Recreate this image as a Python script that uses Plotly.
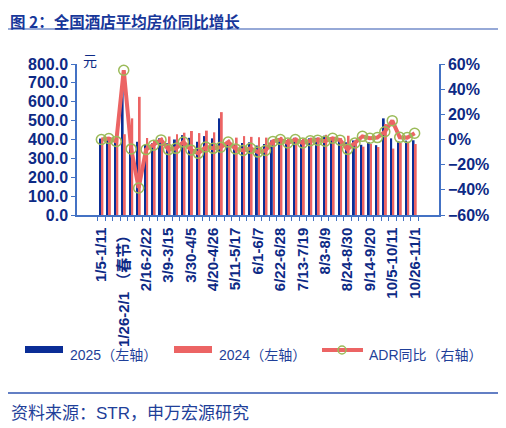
import plotly.graph_objects as go

weeks = ["1/5-1/11", "1/12-1/18", "1/19-1/25", "1/26-2/1（春节）", "2/2-2/8", "2/9-2/15",
         "2/16-2/22", "2/23-3/1", "3/2-3/8", "3/9-3/15", "3/16-3/22", "3/23-3/29",
         "3/30-4/5", "4/6-4/12", "4/13-4/19", "4/20-4/26", "4/27-5/3", "5/4-5/10",
         "5/11-5/17", "5/18-5/24", "5/25-5/31", "6/1-6/7", "6/8-6/14", "6/15-6/21",
         "6/22-6/28", "6/29-7/5", "7/6-7/12", "7/13-7/19", "7/20-7/26", "7/27-8/2",
         "8/3-8/9", "8/10-8/16", "8/17-8/23", "8/24-8/30", "8/31-9/6", "9/7-9/13",
         "9/14-9/20", "9/21-9/27", "9/28-10/4", "10/5-10/11", "10/12-10/18", "10/19-10/25",
         "10/26-11/1"]
shown_labels = ["1/5-1/11", "1/26-2/1（春节）", "2/16-2/22", "3/9-3/15", "3/30-4/5", "4/20-4/26",
                "5/11-5/17", "6/1-6/7", "6/22-6/28", "7/13-7/19", "8/3-8/9", "8/24-8/30",
                "9/14-9/20", "10/5-10/11", "10/26-11/1"]

adr_2025 = [405, 410, 400, 668, 368, 388, 372, 380, 406, 380, 400, 423, 409, 388, 418, 406,
            512, 390, 374, 381, 385, 368, 376, 395, 406, 396, 409, 396, 406, 409, 420, 410,
            408, 385, 395, 372, 386, 370, 512, 406, 390, 394, 396]
adr_2024 = [404, 410, 404, 428, 512, 626, 408, 398, 410, 416, 428, 436, 445, 434, 447, 438,
            545, 400, 410, 418, 414, 412, 410, 402, 414, 405, 410, 405, 410, 412, 425, 410,
            407, 420, 398, 362, 376, 360, 482, 352, 382, 388, 376]
adr_yoy = [0, 0.8, -1.5, 55, -7.5, -38.5, -8, -4.5, -0.3, -8, -7, -2, -8.3, -11, -6, -7,
           -6.2, -2, -7.5, -8.7, -7, -10, -8.7, -1.5, 0, -2.8, 0, -2.8, -1, -0.5, -1.3, 1,
           -0.5, -7.8, -2.7, 2.5, 1, 1.5, 6.2, 15, 1.7, 1.5, 5]

BLUE = "#0A2D96"
RED = "#EC6464"
GREEN = "#9BBB59"
AXIS = "#4472C4"
TXT = "#0D2A85"
LTXT = "#1F3F99"
FONT = "Liberation Sans, Noto Sans CJK SC, sans-serif"

OFF = 8  # page body margin
W, H = 506 - OFF, 428 - OFF
# plot area in figure pixels (reference pixels minus the page offset)
L, R, T, B = 77 - OFF, 439 - OFF, 64 - OFF, 215 - OFF


def px(x):
    """reference window pixel x -> paper x"""
    return (x - OFF - L) / (R - L)


def py(y):
    """reference window pixel y -> paper y"""
    return (B - (y - OFF)) / (B - T)


fig = go.Figure()
fig.add_trace(go.Bar(x=weeks, y=adr_2025, name="2025（左轴）", marker_color=BLUE,
                     marker_line_width=0, yaxis="y"))
fig.add_trace(go.Bar(x=weeks, y=adr_2024, name="2024（左轴）", marker_color=RED,
                     marker_line_width=0, yaxis="y"))
fig.add_trace(go.Scatter(x=weeks, y=adr_yoy, name="ADR同比（右轴）", yaxis="y2",
                         mode="lines+markers",
                         line=dict(color=RED, width=4),
                         marker=dict(symbol="circle-open", size=10, color=GREEN,
                                     line=dict(width=1.5, color=GREEN))))

ticktext = [(w.replace("（", "\u00a0（") if w in shown_labels else "") for w in weeks]

shapes = []
annotations = []
# title underline and source line
shapes.append(dict(type="line", xref="paper", yref="paper", x0=px(8), x1=px(502),
                   y0=py(29), y1=py(29), line=dict(color="#2F55B0", width=1.2)))
shapes.append(dict(type="line", xref="paper", yref="paper", x0=px(8), x1=px(500),
                   y0=py(393), y1=py(393), line=dict(color="#2F55B0", width=1.5)))
# custom legend
shapes.append(dict(type="rect", xref="paper", yref="paper", x0=px(25), x1=px(63),
                   y0=py(346), y1=py(353), fillcolor=BLUE, line=dict(width=0)))
shapes.append(dict(type="rect", xref="paper", yref="paper", x0=px(174), x1=px(212),
                   y0=py(346), y1=py(353), fillcolor=RED, line=dict(width=0)))
shapes.append(dict(type="line", xref="paper", yref="paper", x0=px(322), x1=px(363),
                   y0=py(350), y1=py(350), line=dict(color=RED, width=4)))
shapes.append(dict(type="circle", xref="paper", yref="paper", x0=px(338), x1=px(346),
                   y0=py(346), y1=py(354), line=dict(color=GREEN, width=1.5)))
for xx, txt in [(68, "2025（左轴）"), (217, "2024（左轴）"), (367, "ADR同比（右轴）")]:
    annotations.append(dict(xref="paper", yref="paper", x=px(xx), y=py(355), text=txt,
                            showarrow=False, xanchor="left", yanchor="middle",
                            font=dict(family=FONT, size=14, color=LTXT)))
annotations.append(dict(xref="paper", yref="paper", x=px(8.5), y=py(8.5),
                        text="<b>图 2：全国酒店平均房价同比增长</b>", showarrow=False,
                        xanchor="left", yanchor="top", borderpad=0,
                        font=dict(family="Noto Sans CJK SC, sans-serif", size=15.5, color="#17379A")))
annotations.append(dict(xref="paper", yref="paper", x=px(8.5), y=py(413),
                        text="资料来源：STR，申万宏源研究", showarrow=False,
                        xanchor="left", yanchor="middle",
                        font=dict(family=FONT, size=17, color=LTXT)))
annotations.append(dict(xref="paper", yref="paper", x=px(81), y=py(60), text="元",
                        showarrow=False, xanchor="left", yanchor="middle",
                        font=dict(family="Noto Sans CJK SC, sans-serif", size=14, color=TXT)))

tickfont = dict(family=FONT, size=16, color=TXT, weight="bold")

fig.update_layout(
    width=W, height=H,
    margin=dict(l=L, r=W - R, t=T, b=H - B, autoexpand=False),
    paper_bgcolor="white", plot_bgcolor="white",
    barmode="group", bargap=0.42, bargroupgap=0.12,
    showlegend=False,
    xaxis=dict(type="category", tickmode="array", tickvals=weeks, ticktext=ticktext,
               tickangle=-90, tickson="boundaries", ticks="outside", ticklen=4,
               ticklabelstandoff=5,
               tickcolor=AXIS, showline=True, linecolor=AXIS, linewidth=1.5,
               showgrid=False, zeroline=False, automargin=False,
               tickfont=dict(family=FONT, size=15, color=TXT, weight="bold")),
    yaxis=dict(range=[0, 800], dtick=100, tickformat=".1f", ticks="outside", ticklen=4,
               tickcolor=AXIS, showline=True, linecolor=AXIS, linewidth=1.5,
               showgrid=False, zeroline=False, automargin=False, tickfont=tickfont),
    yaxis2=dict(range=[-60, 60], dtick=20, ticksuffix="%", overlaying="y", side="right",
                ticks="outside", ticklen=4, tickcolor=AXIS, showline=True, linecolor=AXIS,
                linewidth=1.5, showgrid=False, zeroline=False, automargin=False,
                tickfont=tickfont),
    shapes=shapes, annotations=annotations,
)

fig.write_html("out.html")
